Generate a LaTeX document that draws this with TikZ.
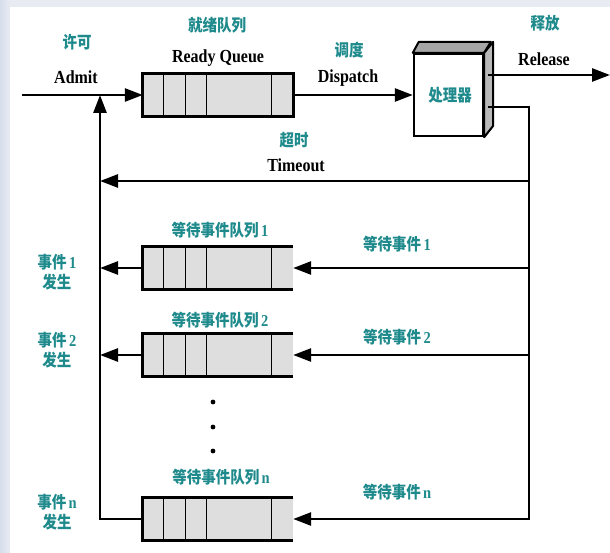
\documentclass[tikz,border=0pt]{standalone}
\usepackage{graphicx}
\usepackage{fontspec}
\setmainfont{Liberation Serif}
\newfontfamily\cjk{Noto Sans CJK SC}
\usetikzlibrary{arrows.meta}
\definecolor{tealc}{RGB}{30,138,140}
\definecolor{qfill}{RGB}{222,222,222}
\definecolor{bgc}{RGB}{232,235,241}
\definecolor{bgl}{RGB}{214,222,236}
\newcommand\tx[1]{\scalebox{1}[1.15]{#1}}
\newcommand\ld[1]{{\rmfamily\bfseries #1}}
\tikzset{
  cn/.style={text=tealc, font=\cjk\bfseries\fontsize{14.5}{16.5}\selectfont, inner sep=0pt, align=center},
  en/.style={font=\rmfamily\bfseries\fontsize{16}{18}\selectfont, inner sep=0pt, anchor=base},
  flow/.style={line width=2.7pt, -{Triangle[length=18pt,width=13pt]}},
  qbox/.style={minimum width=150pt, minimum height=42pt, inner sep=0pt, draw=none, fill=qfill},
  cpubox/.style={minimum width=69pt, minimum height=82pt, inner sep=0pt, draw, line width=2.4pt, fill=white},
}
\newcommand\qdividers[1]{%
  \foreach \dx in {21,43,64,129}
    \draw[line width=0.9pt] ([xshift=\dx pt]#1.north west) -- ([xshift=\dx pt]#1.south west);}
\begin{document}
\begin{tikzpicture}[x=1pt,y=-1pt]
\useasboundingbox (0,0) rectangle (610,553);
% background
\fill[bgc] (0,0) rectangle (610,553);
\shade[left color=bgl, right color=bgc] (0,0) rectangle (10,553);
\fill[white] (10,7) rectangle (610,553);

% ready queue
\node[qbox] (rq) at (218,95) {};
\qdividers{rq}
\draw[line width=2.8pt] (rq.north west) rectangle (rq.south east);

% waiting queues
\foreach \nm/\yy in {q1/268,q2/355,qn/519}{
  \node[qbox] (\nm) at (218,\yy) {};
  \qdividers{\nm}
  \draw[line width=2.8pt] (\nm.north east) -- (\nm.north west) -- (\nm.south west) -- (\nm.south east);
}

% processor
\node[cpubox] (cpu) at (448.5,95) {};
\filldraw[fill=gray!70, line width=2pt, line join=round] (cpu.north west) -- ++(6,-11) -- ++(72,0) -- (cpu.north east) -- cycle;
\filldraw[fill=gray!55, line width=2pt, line join=round] (cpu.north east) -- ++(9,-11) -- ++(0,84) -- (cpu.south east) -- cycle;
\node[cn] (cpul) at (450,95) {\tx{处理器}};

% coordinates
\coordinate (a0) at (22,95);
\coordinate (jL) at (100,95);
\coordinate (relS) at (488,75);
\coordinate (relE) at (610,75);
\coordinate (cpuo) at (488,107);
\coordinate (rt) at (529,181);
\coordinate (Lt) at (100,181);
\coordinate (r1) at (529,268);
\coordinate (r2) at (529,355);
\coordinate (rn) at (529,519);
\coordinate (L1) at (100,268);
\coordinate (L2) at (100,355);
\coordinate (Ln) at (100,519);

% connectors
\draw[flow] (a0) -- (rq.west);
\draw[flow] (rq.east) -- (cpu.west);
\draw[flow] (relS) -- (relE);
\draw[flow] (cpuo) -| (rn) -- (qn.east);
\draw[flow] (rt) -- (Lt);
\draw[flow] (r1) -- (q1.east);
\draw[flow] (r2) -- (q2.east);
\draw[flow] (q1.west) -- (L1);
\draw[flow] (q2.west) -- (L2);
\draw[flow] (qn.west) -- (Ln) -- (jL);

% dots
\foreach \yy in {402,427,451} \fill (213,\yy) circle (2.4);

% labels
\node[cn] (l1) at (217,25) {\tx{就绪队列}};
\node[en] (l2) at (218,63) {\tx{Ready Queue}};
\node[cn] (l3) at (77,42) {\tx{许可}};
\node[en] (l4) at (76,84) {\tx{Admit}};
\node[cn] (l5) at (349,50) {\tx{调度}};
\node[en] (l6) at (348,83) {\tx{Dispatch}};
\node[cn] (l7) at (545,23) {\tx{释放}};
\node[en] (l8) at (544,66) {\tx{Release}};
\node[cn] (l9) at (294,140) {\tx{超时}};
\node[en] (l10) at (296,172) {\tx{Timeout}};

\node[cn] (w1) at (220,230) {\tx{等待事件队列\,\ld{1}}};
\node[cn] (w2) at (220,320) {\tx{等待事件队列\,\ld{2}}};
\node[cn] (wn) at (221,477) {\tx{等待事件队列\,\ld{n}}};
\node[cn] (e1) at (397,244) {\tx{等待事件\,\ld{1}}};
\node[cn] (e2) at (397,337) {\tx{等待事件\,\ld{2}}};
\node[cn] (en) at (397,492) {\tx{等待事件\,\ld{n}}};
\node[cn] (o1) at (57,274.5) {\tx{\begin{tabular}{@{}c@{}}事件\,\ld{1}\\发生\end{tabular}}};
\node[cn] (o2) at (57,352.5) {\tx{\begin{tabular}{@{}c@{}}事件\,\ld{2}\\发生\end{tabular}}};
\node[cn] (on) at (57,514.5) {\tx{\begin{tabular}{@{}c@{}}事件\,\ld{n}\\发生\end{tabular}}};
\end{tikzpicture}
\end{document}
